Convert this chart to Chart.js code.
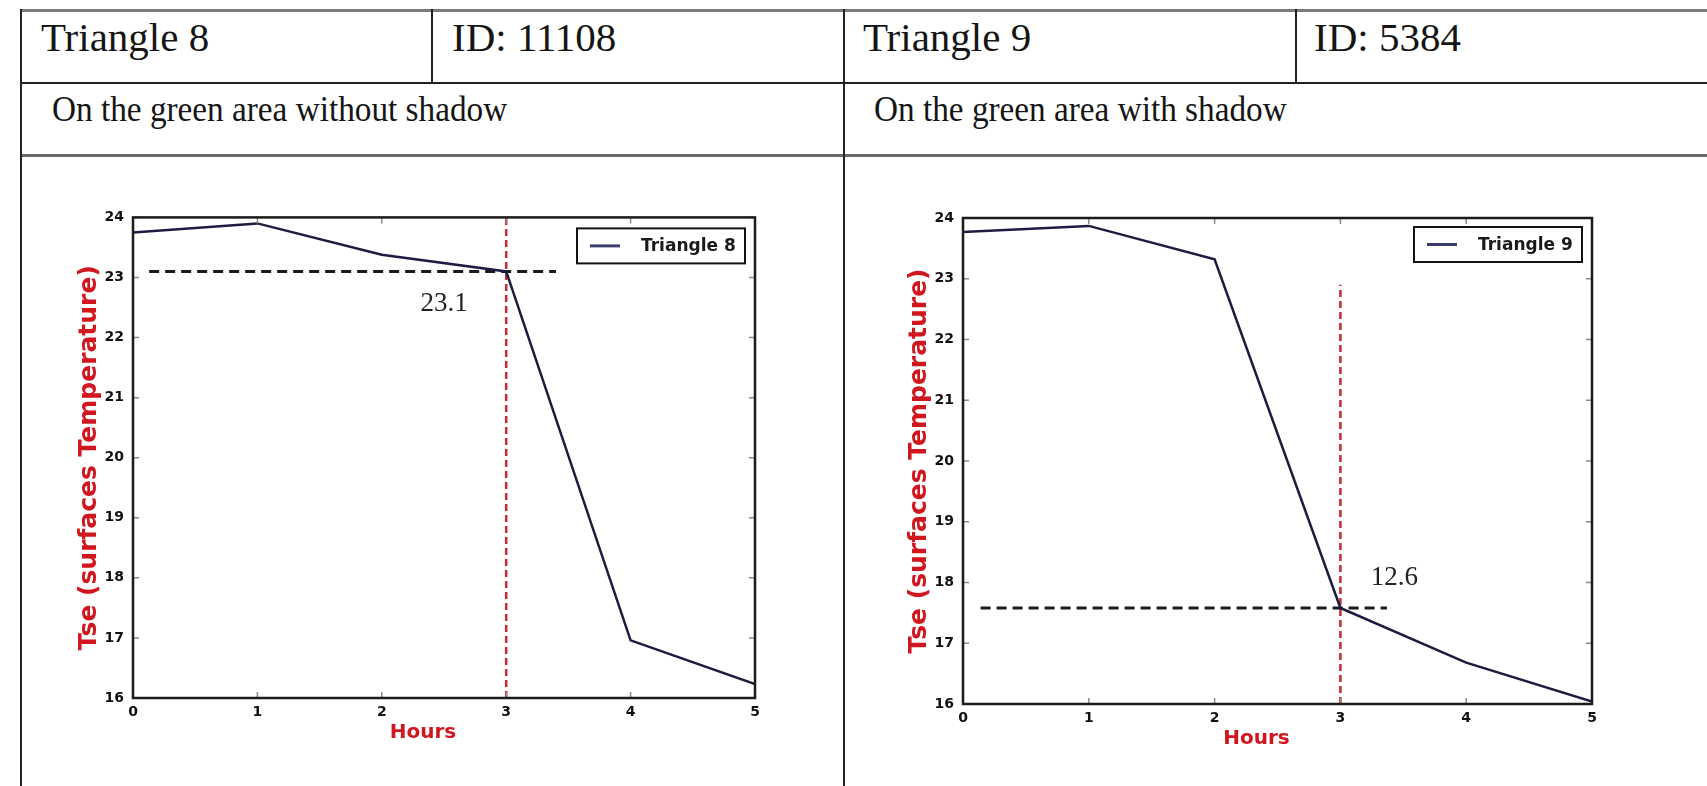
<!DOCTYPE html>
<html><head><meta charset="utf-8">
<script src="https://cdn.jsdelivr.net/npm/chart.js@4.4.1/dist/chart.umd.min.js"></script>
<style>
html,body{margin:0;padding:0;background:#fff;width:1707px;height:786px;overflow:hidden;position:relative;}
.ln{position:absolute;}
.t{position:absolute;font-family:"Liberation Serif","Times New Roman",serif;color:#151515;white-space:nowrap;line-height:1;transform-origin:0 0;}
canvas{position:absolute;}
</style></head><body>
<!-- table rules -->
<div class="ln" style="left:21px;top:9px;width:1700px;height:3px;background:#7a7a7a"></div>
<div class="ln" style="left:21px;top:82px;width:1700px;height:2px;background:#222"></div>
<div class="ln" style="left:21px;top:154px;width:1700px;height:3px;background:#6a6a6a"></div>
<div class="ln" style="left:20px;top:9px;width:2px;height:790px;background:#222"></div>
<div class="ln" style="left:843px;top:9px;width:2px;height:790px;background:#222"></div>
<div class="ln" style="left:431px;top:9px;width:2px;height:74px;background:#222"></div>
<div class="ln" style="left:1295px;top:9px;width:2px;height:74px;background:#222"></div>
<!-- table texts -->
<div class="t" style="left:41px;top:17px;font-size:41px">Triangle 8</div>
<div class="t" style="left:452px;top:17px;font-size:41px">ID: 11108</div>
<div class="t" style="left:863px;top:17px;font-size:41px">Triangle 9</div>
<div class="t" style="left:1314px;top:17px;font-size:41px">ID: 5384</div>
<div class="t" style="left:52px;top:92px;font-size:35px;transform:scaleX(0.95)">On the green area without shadow</div>
<div class="t" style="left:874px;top:92px;font-size:35px;transform:scaleX(0.95)">On the green area with shadow</div>

<canvas id="c8" width="720" height="560" style="left:60px;top:200px;width:720px;height:560px"></canvas>
<canvas id="c9" width="730" height="566" style="left:890px;top:200px;width:730px;height:566px"></canvas>

<script>
// ---- data ----
const hours = [0, 1, 2, 3, 4, 5];
const tri8Tse = [23.75, 23.9, 23.38, 23.1, 16.96, 16.23];
const tri9Tse = [23.77, 23.87, 23.32, 17.58, 16.68, 16.04];
const xTickValues = [0, 1, 2, 3, 4, 5];
const yTickValues = [16, 17, 18, 19, 20, 21, 22, 23, 24];
const tri8GuideHX = [0.13, 3.4];
const tri8GuideHY = [23.1, 23.1];
const tri8GuideVX = [3, 3];
const tri8GuideVY = [16, 24];
const tri9GuideHX = [0.14, 3.37];
const tri9GuideHY = [17.58, 17.58];
const tri9GuideVX = [3, 3];
const tri9GuideVY = [16, 22.9];
const tri8NoteText = '23.1';
const tri8NoteXY = [2.5, 22.56];
const tri9NoteText = '12.6';
const tri9NoteXY = [3.43, 18.07];
const xTitle = 'Hours';
const yTitle = 'Tse (surfaces Temperature)';

const pts = (xs, ys) => xs.map((v, i) => ({x: v, y: ys[i]}));

const tickFont = {family: '"DejaVu Sans", sans-serif', weight: 'bold', size: 14};

const decorPlugin = {
  id: 'decor',
  afterDatasetsDraw(chart, args, o) {
    const {ctx, chartArea: a, scales: {x, y}} = chart;
    ctx.save();
    // inward tick marks on all four sides
    ctx.strokeStyle = '#8c8c8c'; ctx.lineWidth = 1.5;
    x.ticks.forEach((t, i) => {
      const px = x.getPixelForTick(i);
      ctx.beginPath();
      ctx.moveTo(px, a.bottom); ctx.lineTo(px, a.bottom - 6);
      ctx.moveTo(px, a.top); ctx.lineTo(px, a.top + 6);
      ctx.stroke();
    });
    y.ticks.forEach((t, i) => {
      const py = y.getPixelForTick(i);
      ctx.beginPath();
      ctx.moveTo(a.left, py); ctx.lineTo(a.left + 6, py);
      ctx.moveTo(a.right, py); ctx.lineTo(a.right - 6, py);
      ctx.stroke();
    });
    // frame
    ctx.strokeStyle = '#1b1b1b'; ctx.lineWidth = 2.5;
    ctx.strokeRect(a.left, a.top, a.right - a.left, a.bottom - a.top);
    // note
    ctx.fillStyle = '#222';
    ctx.font = '27px "Liberation Serif", "Times New Roman", serif';
    ctx.textAlign = 'center'; ctx.textBaseline = 'middle';
    ctx.fillText(o.noteText, x.getPixelForValue(o.noteXY[0]), y.getPixelForValue(o.noteXY[1]));
    // legend box
    const ds = chart.data.datasets[0];
    const bw = 168, bh = 35;
    const bx = a.right - 10 - bw, by = a.top + o.legendTop;
    ctx.fillStyle = '#fff'; ctx.fillRect(bx, by, bw, bh);
    ctx.strokeStyle = '#111'; ctx.lineWidth = 2;
    ctx.strokeRect(bx, by, bw, bh);
    ctx.strokeStyle = '#3c3c6c'; ctx.lineWidth = 3;
    ctx.beginPath(); ctx.moveTo(bx + 13, by + bh / 2); ctx.lineTo(bx + 43, by + bh / 2); ctx.stroke();
    ctx.fillStyle = '#1a1a1a';
    ctx.font = 'bold 17px "DejaVu Sans", sans-serif';
    ctx.textAlign = 'left'; ctx.textBaseline = 'middle';
    ctx.fillText(ds.label, bx + 64, by + bh / 2 + 1);
    // axis titles
    ctx.fillStyle = '#d0161e';
    ctx.font = 'bold 20px "DejaVu Sans", sans-serif';
    ctx.textAlign = 'center'; ctx.textBaseline = 'alphabetic';
    ctx.fillText(xTitle, (a.left + a.right) / 2 - 21, a.bottom + 40);
    ctx.save();
    ctx.font = 'bold 25px "DejaVu Sans", sans-serif';
    ctx.translate(a.left - 44, (a.top + a.bottom) / 2);
    ctx.rotate(-Math.PI / 2);
    ctx.textBaseline = 'middle';
    ctx.fillText(yTitle, 0, 0);
    ctx.restore();
    ctx.restore();
  }
};

function makeChart(id, label, series, hX, hY, vX, vY, noteText, noteXY, pad, xH, legendTop) {
  return new Chart(document.getElementById(id), {
    type: 'line',
    data: {
      datasets: [
        {label: label, data: pts(hours, series), borderColor: '#1c1c40', borderWidth: 2.5,
         pointRadius: 0, tension: 0, fill: false, order: 1},
        {label: 'h', data: pts(hX, hY), borderColor: '#1a1a1a', borderWidth: 3,
         borderDash: [10, 6], pointRadius: 0, fill: false, order: 2},
        {label: 'v', data: pts(vX, vY), borderColor: '#c32a32', borderWidth: 2.5,
         borderDash: [7, 4], pointRadius: 0, fill: false, order: 3}
      ]
    },
    options: {
      responsive: false, animation: false, devicePixelRatio: 1,
      layout: {padding: pad},
      plugins: {
        legend: {display: false}, tooltip: {enabled: false},
        decor: {noteText: noteText, noteXY: noteXY, legendTop: legendTop}
      },
      scales: {
        x: {
          type: 'linear', min: 0, max: 5,
          afterBuildTicks: s => { s.ticks = xTickValues.map(v => ({value: v})); },
          afterFit: s => { s.height = xH; },
          grid: {display: false, drawTicks: false}, border: {display: false},
          ticks: {padding: 6, font: tickFont, color: '#111', maxRotation: 0, autoSkip: false}
        },
        y: {
          type: 'linear', min: 16, max: 24,
          afterBuildTicks: s => { s.ticks = yTickValues.map(v => ({value: v})); },
          afterFit: s => { s.width = 73; },
          grid: {display: false, drawTicks: false}, border: {display: false},
          ticks: {padding: 9, font: tickFont, color: '#111', autoSkip: false}
        }
      }
    },
    plugins: [decorPlugin]
  });
}

makeChart('c8', 'Triangle 8', tri8Tse, tri8GuideHX, tri8GuideHY, tri8GuideVX, tri8GuideVY,
  tri8NoteText, tri8NoteXY, {top: 16, right: 25, left: 0, bottom: 0}, 62, 11);
makeChart('c9', 'Triangle 9', tri9Tse, tri9GuideHX, tri9GuideHY, tri9GuideVX, tri9GuideVY,
  tri9NoteText, tri9NoteXY, {top: 18, right: 28, left: 0, bottom: 0}, 62, 9);
</script>
</body></html>
